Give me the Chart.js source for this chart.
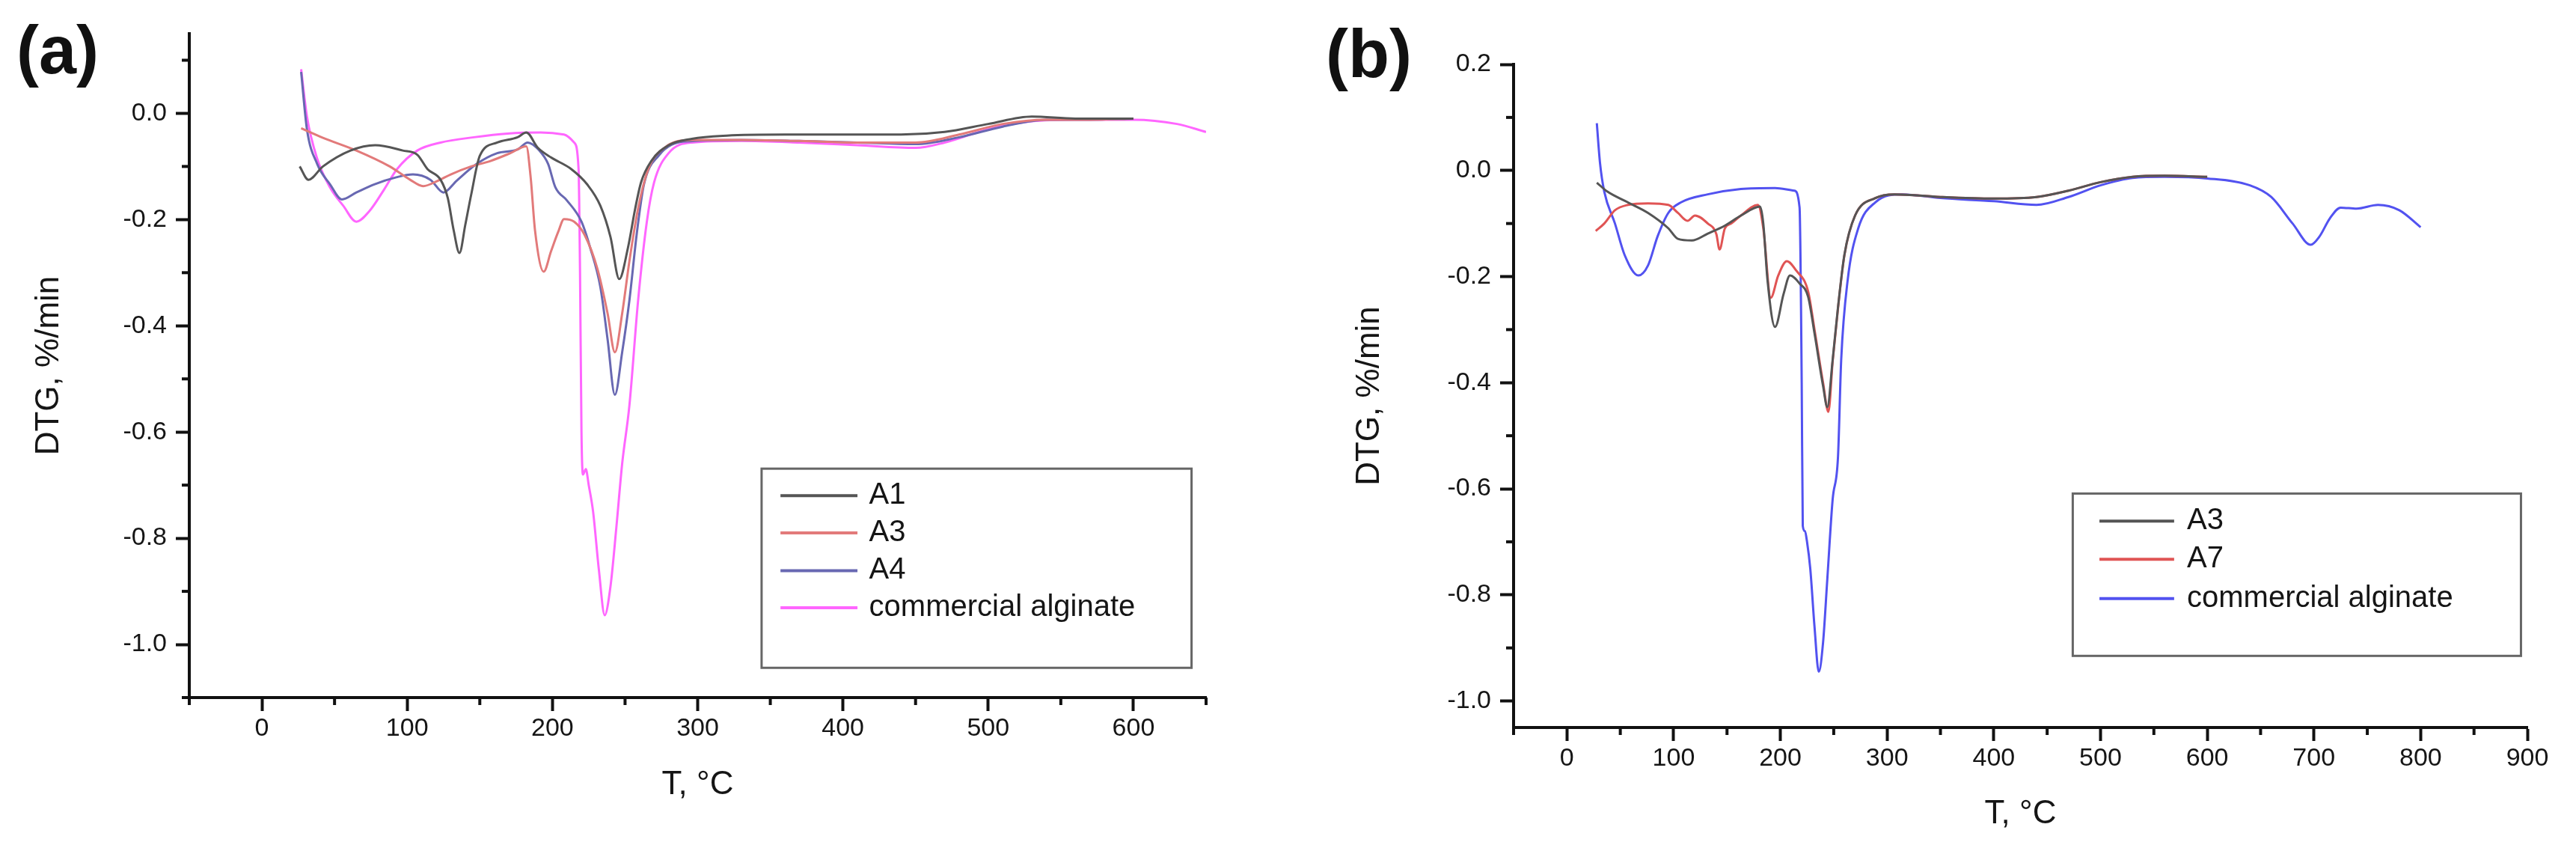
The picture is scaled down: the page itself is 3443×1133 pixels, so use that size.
<!DOCTYPE html>
<html>
<head>
<meta charset="utf-8">
<script src="https://cdn.jsdelivr.net/npm/chart.js@4.4.1/dist/chart.umd.min.js"></script>
<style>
  html, body { margin: 0; padding: 0; background: #fff; }
  #wrap { position: relative; width: 3443px; height: 1133px; overflow: hidden; }
  .panel { position: absolute; top: 0; height: 1133px; }
  .tag { position: absolute; font: bold 90px "Liberation Sans", Arial, sans-serif; line-height: 90px; color: #111; }
</style>
</head>
<body>
<div id="wrap">
  <div class="panel" style="left:0;width:1720px"><canvas id="chartA" width="1720" height="1133"></canvas></div>
  <div class="panel" style="left:1720px;width:1723px"><canvas id="chartB" width="1723" height="1133"></canvas></div>
  <div class="tag" style="left:22px;top:22px">(a)</div>
  <div class="tag" style="left:1772px;top:27px">(b)</div>
</div>
<script>
// ---- panel (a) ----
const xTicksA = [0, 100, 200, 300, 400, 500, 600];
const yTicksA = [0, -0.2, -0.4, -0.6, -0.8, -1.0];
const xMinorA = [-50, 50, 150, 250, 350, 450, 550, 650];
const yMinorA = [0.1, -0.1, -0.3, -0.5, -0.7, -0.9, -1.1];

const a1T = [26, 32, 42, 61, 78, 97, 107, 114, 123, 128, 132, 136, 140, 144, 150, 162, 176, 182, 190, 199, 213, 224, 233, 240, 246, 252, 257, 261, 268, 280, 296, 320, 360, 400, 440, 470, 500, 530, 560, 600];
const a1V = [-0.10, -0.125, -0.10, -0.07, -0.06, -0.07, -0.078, -0.105, -0.125, -0.16, -0.22, -0.263, -0.21, -0.154, -0.08, -0.055, -0.045, -0.036, -0.065, -0.083, -0.105, -0.134, -0.174, -0.233, -0.312, -0.253, -0.179, -0.13, -0.09, -0.06, -0.048, -0.042, -0.04, -0.04, -0.04, -0.035, -0.02, -0.006, -0.01, -0.01];

const a3T = [27, 42, 65, 88, 102, 111, 121, 130, 144, 157, 171, 182, 185, 188, 194, 199, 204, 208, 215, 222, 231, 238, 243, 248, 253, 259, 266, 277, 296, 330, 370, 410, 450, 480, 510, 540, 570, 600];
const a3V = [-0.028, -0.046, -0.07, -0.10, -0.125, -0.137, -0.127, -0.115, -0.10, -0.09, -0.075, -0.062, -0.12, -0.22, -0.298, -0.26, -0.223, -0.199, -0.204, -0.228, -0.293, -0.377, -0.45, -0.377, -0.278, -0.179, -0.105, -0.065, -0.05, -0.05, -0.052, -0.055, -0.055, -0.04, -0.02, -0.012, -0.012, -0.01];

const a4T = [27, 31, 38, 47, 55, 65, 77, 93, 104, 116, 125, 134, 148, 162, 176, 183, 191, 197, 202, 210, 220, 226, 233, 238, 243, 248, 253, 258, 263, 273, 291, 330, 370, 410, 450, 480, 510, 540, 570, 600];
const a4V = [0.078, -0.03, -0.095, -0.134, -0.162, -0.149, -0.134, -0.12, -0.115, -0.125, -0.149, -0.127, -0.095, -0.075, -0.068, -0.055, -0.07, -0.095, -0.139, -0.164, -0.204, -0.253, -0.327, -0.426, -0.53, -0.45, -0.352, -0.228, -0.134, -0.08, -0.053, -0.05, -0.052, -0.055, -0.058, -0.045, -0.025, -0.012, -0.012, -0.01];

const caT = [27, 31, 38, 47, 56, 65, 74, 84, 93, 107, 123, 146, 169, 192, 208, 215, 218, 219, 220, 221, 223, 225, 228, 232, 236, 240, 244, 248, 253, 259, 265, 270, 280, 296, 330, 370, 410, 450, 470, 500, 530, 560, 600, 630, 650];
const caV = [0.083, -0.006, -0.085, -0.14, -0.174, -0.204, -0.184, -0.144, -0.105, -0.07, -0.055, -0.045, -0.038, -0.036, -0.04, -0.055, -0.105, -0.3, -0.6, -0.68, -0.67, -0.70, -0.75, -0.86, -0.945, -0.89, -0.78, -0.66, -0.55, -0.352, -0.204, -0.13, -0.075, -0.055, -0.052, -0.055, -0.06, -0.065, -0.055, -0.03, -0.015, -0.012, -0.012, -0.02, -0.035];

// ---- panel (b) ----
const xTicksB = [0, 100, 200, 300, 400, 500, 600, 700, 800, 900];
const yTicksB = [0.2, 0, -0.2, -0.4, -0.6, -0.8, -1.0];
const xMinorB = [-50, 50, 150, 250, 350, 450, 550, 650, 750, 850];
const yMinorB = [0.1, -0.1, -0.3, -0.5, -0.7, -0.9];

const b3T = [28, 38, 57, 76, 95, 104, 117, 132, 148, 163, 181, 184, 188, 195, 203, 209, 218, 226, 232, 240, 244, 249, 254, 260, 270, 289, 307, 350, 400, 440, 470, 500, 530, 560, 600];
const b3V = [-0.023, -0.04, -0.06, -0.08, -0.109, -0.129, -0.132, -0.119, -0.104, -0.085, -0.068, -0.10, -0.208, -0.295, -0.233, -0.198, -0.213, -0.238, -0.307, -0.406, -0.446, -0.357, -0.258, -0.159, -0.085, -0.052, -0.045, -0.05, -0.053, -0.05, -0.038, -0.022, -0.012, -0.01, -0.012];

const b7T = [27, 35, 45, 57, 76, 95, 104, 113, 120, 132, 140, 143, 148, 154, 163, 179, 184, 191, 198, 206, 215, 226, 232, 240, 245, 249, 254, 260, 270, 289, 307, 350, 400, 440, 470, 500, 530, 560, 600];
const b7V = [-0.114, -0.10, -0.075, -0.065, -0.062, -0.065, -0.08, -0.095, -0.085, -0.10, -0.12, -0.149, -0.109, -0.10, -0.085, -0.065, -0.109, -0.24, -0.198, -0.171, -0.189, -0.228, -0.30, -0.40, -0.455, -0.36, -0.26, -0.16, -0.085, -0.052, -0.045, -0.05, -0.053, -0.05, -0.038, -0.022, -0.012, -0.01, -0.012];

const bcT = [28, 31, 35, 45, 54, 67, 76, 85, 95, 107, 132, 163, 195, 213, 218, 220, 221, 223, 225, 228, 232, 236, 240, 244, 249, 254, 257, 263, 273, 289, 314, 350, 400, 440, 470, 500, 530, 560, 600, 640, 660, 680, 697, 705, 715, 725, 740, 760, 780, 800];
const bcV = [0.089, 0.014, -0.04, -0.10, -0.159, -0.198, -0.179, -0.124, -0.08, -0.06, -0.045, -0.035, -0.033, -0.038, -0.07, -0.4, -0.67, -0.68, -0.70, -0.75, -0.86, -0.945, -0.89, -0.77, -0.62, -0.54, -0.357, -0.208, -0.109, -0.06, -0.045, -0.052, -0.058, -0.065, -0.05, -0.028, -0.014, -0.012, -0.015, -0.028, -0.05, -0.10, -0.14, -0.125, -0.09, -0.07, -0.072, -0.065, -0.075, -0.107];

const FONT = '"Liberation Sans", Arial, sans-serif';

function pts(xs, ys) {
  return xs.map((x, i) => ({ x: x, y: ys[i] }));
}

function line(label, xs, ys, color) {
  return {
    label: label,
    data: pts(xs, ys),
    borderColor: color,
    borderWidth: 3,
    pointRadius: 0,
    fill: false,
    cubicInterpolationMode: 'monotone'
  };
}

// small ticks between the labelled ones
const minorTicks = {
  id: 'minorTicks',
  afterDraw(chart, args, o) {
    const { ctx, chartArea: a, scales: { x, y } } = chart;
    ctx.save();
    ctx.strokeStyle = '#111';
    ctx.lineWidth = 4;
    o.x.forEach(v => {
      const px = x.getPixelForValue(v);
      ctx.beginPath(); ctx.moveTo(px, a.bottom); ctx.lineTo(px, a.bottom + 10); ctx.stroke();
    });
    o.y.forEach(v => {
      const py = y.getPixelForValue(v);
      ctx.beginPath(); ctx.moveTo(a.left, py); ctx.lineTo(a.left - 10, py); ctx.stroke();
    });
    ctx.restore();
  }
};

// framed legend inside the plot, placed in data units
const boxLegend = {
  id: 'boxLegend',
  afterDatasetsDraw(chart, args, o) {
    const { ctx, scales: { x, y } } = chart;
    const L = x.getPixelForValue(o.x0), R = x.getPixelForValue(o.x1);
    const T = y.getPixelForValue(o.y0), B = y.getPixelForValue(o.y1);
    ctx.save();
    ctx.fillStyle = '#fff';
    ctx.fillRect(L, T, R - L, B - T);
    ctx.strokeStyle = '#666';
    ctx.lineWidth = 3;
    ctx.strokeRect(L, T, R - L, B - T);
    ctx.font = '40px ' + FONT;
    ctx.textBaseline = 'middle';
    chart.data.datasets.forEach((ds, i) => {
      const yy = y.getPixelForValue(o.rows[i]);
      ctx.strokeStyle = ds.borderColor;
      ctx.lineWidth = 4;
      ctx.beginPath();
      ctx.moveTo(x.getPixelForValue(o.lx0), yy);
      ctx.lineTo(x.getPixelForValue(o.lx1), yy);
      ctx.stroke();
      ctx.fillStyle = '#151515';
      ctx.fillText(ds.label, x.getPixelForValue(o.tx), yy);
    });
    ctx.restore();
  }
};

function makeChart(id, p) {
  const axisGrid = { display: true, drawOnChartArea: false, drawTicks: true, tickLength: 18, tickWidth: 4, tickColor: '#111' };
  const axisBorder = { display: true, color: '#111', width: 4 };
  const tickFont = { family: FONT, size: 34 };
  const titleFont = { family: FONT, size: 44 };
  return new Chart(document.getElementById(id), {
    type: 'line',
    data: { datasets: p.datasets },
    plugins: [minorTicks, boxLegend],
    options: {
      responsive: false,
      animation: false,
      layout: { padding: p.pad },
      plugins: {
        legend: { display: false },
        tooltip: { enabled: false },
        minorTicks: { x: p.xMinor, y: p.yMinor },
        boxLegend: p.legend
      },
      scales: {
        x: {
          type: 'linear',
          min: p.xMin, max: p.xMax,
          grid: axisGrid, border: axisBorder,
          afterBuildTicks: s => { s.ticks = p.xTicks.map(v => ({ value: v })); },
          afterFit: s => { s.height = p.xHeight; },
          ticks: { color: '#151515', font: tickFont, padding: 3, maxRotation: 0, callback: v => String(v) },
          title: { display: true, text: 'T, °C', color: '#151515', font: titleFont, padding: { top: 0, bottom: p.xTitlePad } }
        },
        y: {
          type: 'linear',
          min: p.yMin, max: p.yMax,
          grid: axisGrid, border: axisBorder,
          afterBuildTicks: s => { s.ticks = p.yTicks.map(v => ({ value: v })); },
          afterFit: s => { s.width = p.yWidth; },
          ticks: { color: '#151515', font: tickFont, padding: 12, callback: v => v.toFixed(1) },
          title: { display: true, text: 'DTG, %/min', color: '#151515', font: titleFont, padding: { top: p.yTitlePad, bottom: 0 } }
        }
      }
    }
  });
}

makeChart('chartA', {
  datasets: [
    line('A1', a1T, a1V, '#555555'),
    line('A3', a3T, a3V, '#e27a7a'),
    line('A4', a4T, a4V, '#6868b2'),
    line('commercial alginate', caT, caV, '#ff66ff')
  ],
  xMin: -50, xMax: 650, yMin: -1.1, yMax: 0.15,
  xTicks: xTicksA, yTicks: yTicksA, xMinor: xMinorA, yMinor: yMinorA,
  pad: { left: 0, top: 45, right: 108, bottom: 0 },
  yWidth: 253, xHeight: 201, xTitlePad: 58, yTitlePad: 39,
  legend: { x0: 344, x1: 640, y0: -0.669, y1: -1.044, lx0: 357, lx1: 410, tx: 418, rows: [-0.72, -0.79, -0.861, -0.931] }
});

makeChart('chartB', {
  datasets: [
    line('A3', b3T, b3V, '#555555'),
    line('A7', b7T, b7V, '#e05454'),
    line('commercial alginate', bcT, bcV, '#5252f0')
  ],
  xMin: -50, xMax: 900, yMin: -1.05, yMax: 0.2,
  xTicks: xTicksB, yTicks: yTicksB, xMinor: xMinorB, yMinor: yMinorB,
  pad: { left: 0, top: 86, right: 65, bottom: 0 },
  yWidth: 303, xHeight: 161, xTitlePad: 19, yTitlePad: 84,
  legend: { x0: 474, x1: 894, y0: -0.609, y1: -0.915, lx0: 499, lx1: 569, tx: 581, rows: [-0.661, -0.733, -0.807] }
});
</script>
</body>
</html>
